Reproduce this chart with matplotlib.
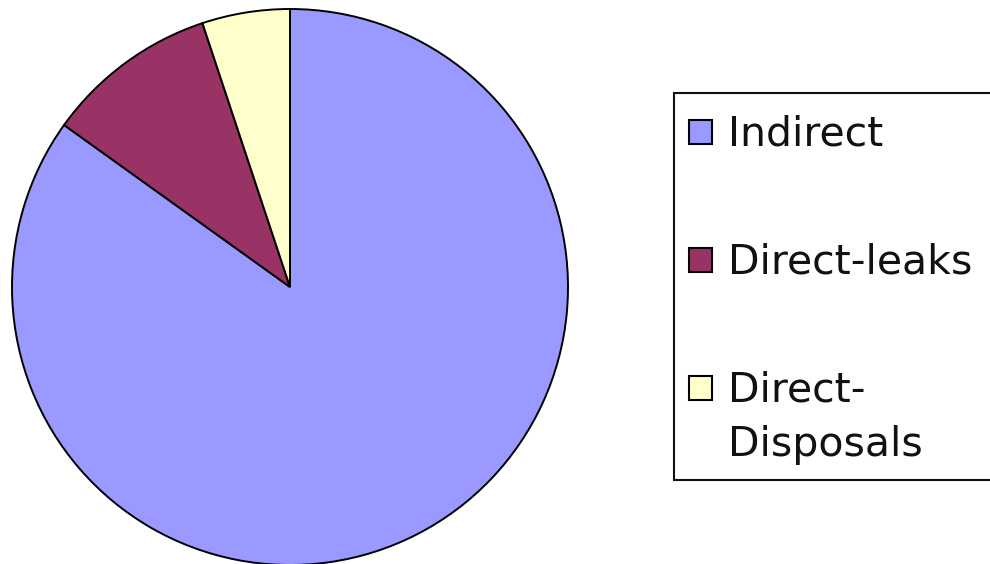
import matplotlib
matplotlib.use("Agg")
from matplotlib import pyplot as plt
from matplotlib.patches import Rectangle

# данные
labels = ["Indirect", "Direct-leaks", "Direct-\nDisposals"]
values = [84.9, 10.0, 5.1]
colors = ["#9999FF", "#993366", "#FFFFCC"]

W, H = 990, 564
fig = plt.figure(figsize=(W / 100, H / 100), dpi=100)

# пирог: центр (290, 287) px, радиус 278 px
cx, cy, r = 290, 287, 278
ax = fig.add_axes([(cx - r) / W, (H - cy - r) / H, 2 * r / W, 2 * r / H])
ax.pie(values, colors=colors, startangle=90, counterclock=False,
       wedgeprops=dict(edgecolor="black", linewidth=1.4))
ax.set_xlim(-1, 1)
ax.set_ylim(-1, 1)
ax.set_aspect("equal")
ax.axis("off")


def fx(px):
    return px / W


def fy(py):
    return 1 - py / H


# рамка легенды (уходит за правый край)
fig.add_artist(Rectangle((fx(674), fy(480)), fx(1010) - fx(674), fy(93) - fy(480),
                         transform=fig.transFigure, facecolor="white",
                         edgecolor="#111111", linewidth=1.5, clip_on=False))

first_base, row_pitch, line_pitch = 145, 128, 55
for i, (lab, col) in enumerate(zip(labels, colors)):
    base = first_base + i * row_pitch
    fig.add_artist(Rectangle((fx(689), fy(base - 1)), fx(23), 24 / H,
                             transform=fig.transFigure, facecolor=col,
                             edgecolor="black", linewidth=1.5))
    for k, line in enumerate(lab.split("\n")):
        fig.text(fx(728), fy(base + k * line_pitch), line, fontsize=29.5,
                 family="DejaVu Sans", color="#111111", va="baseline", ha="left")

plt.savefig("out.png", dpi=100)
plt.close()
